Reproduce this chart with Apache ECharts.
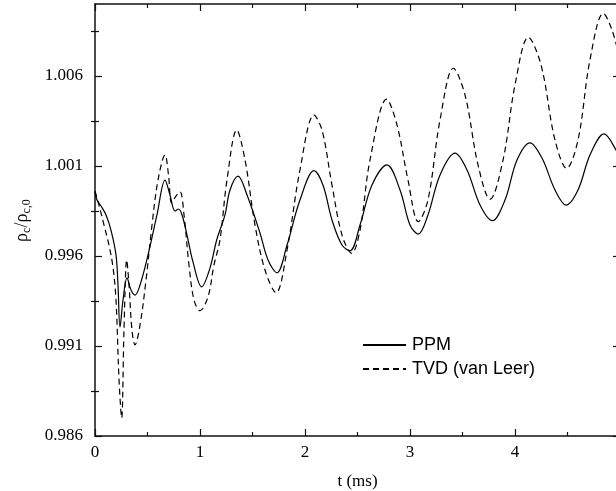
<!DOCTYPE html>
<html>
<head>
<meta charset="utf-8">
<script src="https://cdn.jsdelivr.net/npm/echarts@6/dist/echarts.min.js"></script>
<style>html,body{margin:0;padding:0;background:#fff;}#c{width:616px;height:491px;}</style>
</head>
<body>
<div id="c"></div>
<script>
// time (ms) and rho_c/rho_c0 for PPM
const ppmT = [0,0.019,0.057,0.105,0.152,0.2,0.219,0.238,0.267,0.305,0.343,0.381,0.429,0.505,0.59,0.667,0.714,0.762,0.795,0.829,0.876,0.933,1.016,1.095,1.159,1.238,1.286,1.362,1.448,1.571,1.648,1.733,1.829,1.952,2.086,2.171,2.257,2.352,2.429,2.524,2.638,2.781,2.905,3.0,3.079,3.171,3.286,3.429,3.543,3.667,3.784,3.905,4.019,4.143,4.257,4.381,4.486,4.6,4.714,4.848,4.962,5.0];
const ppmV = [0.99956,0.99911,0.99878,0.99828,0.99744,0.99606,0.99439,0.99206,0.99356,0.99478,0.99411,0.99383,0.99439,0.99606,0.99828,1.00022,0.99939,0.99850,0.99861,0.99828,0.99717,0.99567,0.99429,0.99533,0.99689,0.99828,0.99967,1.00044,0.99939,0.99728,0.99578,0.99507,0.99661,0.99911,1.00074,0.99994,0.99800,0.99661,0.99629,0.99772,0.99994,1.00106,0.99967,0.99772,0.99722,0.99828,1.00050,1.00171,1.00078,0.99883,0.99796,0.99911,1.00133,1.00229,1.00144,0.99967,0.99883,0.99967,1.00161,1.00278,1.00189,1.00133];
// TVD (van Leer)
const tvdT = [0,0.038,0.086,0.133,0.171,0.2,0.229,0.254,0.276,0.302,0.324,0.352,0.381,0.429,0.486,0.543,0.6,0.667,0.7,0.73,0.771,0.81,0.848,0.895,0.943,1.0,1.076,1.133,1.19,1.257,1.35,1.429,1.524,1.619,1.724,1.829,1.952,2.086,2.162,2.257,2.352,2.445,2.524,2.619,2.778,2.876,2.981,3.079,3.171,3.286,3.413,3.524,3.648,3.762,3.886,4.0,4.127,4.248,4.381,4.492,4.6,4.714,4.841,4.924,5.0];
const tvdV = [0.99961,0.99883,0.99772,0.99661,0.99539,0.99356,0.98911,0.98700,0.99189,0.99578,0.99439,0.99189,0.99106,0.99217,0.99467,0.99772,1.00022,1.00161,1.00050,0.99894,0.99933,0.99957,0.99828,0.99550,0.99356,0.99296,0.99372,0.99550,0.99689,1.00022,1.00300,1.00133,0.99772,0.99522,0.99396,0.99633,1.00078,1.00383,1.00300,0.99994,0.99717,0.99615,0.99744,1.00133,1.00471,1.00328,1.00022,0.99791,0.99911,1.00356,1.00643,1.00494,1.00106,0.99915,1.00133,1.00550,1.00815,1.00661,1.00244,1.00087,1.00244,1.00689,1.00948,1.00856,1.00689];
const seriesNames = ['PPM', 'TVD (van Leer)'];
const yMajor = [0.986, 0.991, 0.996, 1.001, 1.006];
const yMinor = [0.9885, 0.9935, 0.9985, 1.0035, 1.0085];
const xName = 't (ms)';

const zip = (a, b) => a.map((t, i) => [t, b[i]]);
const serif = 'Liberation Serif';
const axisCol = '#111';

const xBase = {
  type: 'value', min: 0, max: 5, interval: 1,
  axisLine: {show: true, onZero: false, lineStyle: {color: axisCol, width: 1.5}},
  axisTick: {show: true, inside: true, length: 7, lineStyle: {color: axisCol, width: 1.2}},
  minorTick: {show: true, splitNumber: 2, length: 4, lineStyle: {color: axisCol, width: 1.2}},
  splitLine: {show: false}, minorSplitLine: {show: false}
};
const yBase = {
  type: 'value', min: 0.986, max: 1.010,
  axisLine: {show: true, onZero: false, lineStyle: {color: axisCol, width: 1.5}},
  splitLine: {show: false}
};

const chart = echarts.init(document.getElementById('c'), null, {renderer: 'canvas'});
chart.setOption({
  animation: false,
  backgroundColor: '#fff',
  grid: {left: 95, top: 4, width: 525, height: 432, containLabel: false, outerBoundsMode: 'none'},
  xAxis: [
    Object.assign({}, xBase, {
      position: 'bottom',
      axisLabel: {show: true, margin: 8, color: '#000', fontFamily: serif, fontSize: 17, hideOverlap: false},
      name: xName, nameLocation: 'middle', nameGap: 37,
      nameTextStyle: {color: '#000', fontFamily: serif, fontSize: 17}
    }),
    Object.assign({}, xBase, {position: 'top', axisLabel: {show: false}})
  ],
  yAxis: [
    Object.assign({}, yBase, {
      position: 'left',
      axisTick: {show: true, inside: true, length: 7, customValues: yMajor, lineStyle: {color: axisCol, width: 1.2}},
      axisLabel: {show: true, margin: 12, customValues: yMajor, color: '#000', fontFamily: serif, fontSize: 17,
        formatter: v => Number(v).toFixed(3)}
    }),
    Object.assign({}, yBase, {
      position: 'left', axisLine: {show: false},
      axisTick: {show: true, inside: true, length: 4, customValues: yMinor, lineStyle: {color: axisCol, width: 1.2}},
      axisLabel: {show: false}
    }),
    Object.assign({}, yBase, {
      position: 'right',
      axisTick: {show: true, inside: true, length: 7, customValues: yMajor, lineStyle: {color: axisCol, width: 1.2}},
      axisLabel: {show: false}
    }),
    Object.assign({}, yBase, {
      position: 'right', axisLine: {show: false},
      axisTick: {show: true, inside: true, length: 4, customValues: yMinor, lineStyle: {color: axisCol, width: 1.2}},
      axisLabel: {show: false}
    })
  ],
  legend: {
    orient: 'vertical', left: 357, top: 331,
    itemWidth: 43, itemHeight: 14, itemGap: 6,
    itemStyle: {opacity: 0},
    textStyle: {fontFamily: 'Liberation Sans', fontSize: 18, color: '#000', lineHeight: 18, padding: [0, 0, 0, 1]},
    data: seriesNames
  },
  series: [
    {name: seriesNames[0], type: 'line', data: zip(ppmT, ppmV), smooth: 0.35, showSymbol: false, symbol: 'none',
      lineStyle: {color: '#000', width: 1.2, type: 'solid'}, itemStyle: {color: '#000'}},
    {name: seriesNames[1], type: 'line', data: zip(tvdT, tvdV), smooth: 0.35, showSymbol: false, symbol: 'none',
      lineStyle: {color: '#000', width: 1.2, type: [6, 4]}, itemStyle: {color: '#000'}}
  ],
  graphic: [{
    type: 'group', x: 22, y: 220, rotation: Math.PI / 2,
    children: [
      {type: 'text', x: -22, y: 0, style: {text: 'ρ', font: '18px "Liberation Serif"', fill: '#000', verticalAlign: 'middle'}},
      {type: 'text', x: -13, y: 5, style: {text: 'c', font: '12px "Liberation Serif"', fill: '#000', verticalAlign: 'middle'}},
      {type: 'text', x: -7.5, y: 0, style: {text: '/ρ', font: '18px "Liberation Serif"', fill: '#000', verticalAlign: 'middle'}},
      {type: 'text', x: 6.5, y: 5, style: {text: 'c,0', font: '12px "Liberation Serif"', fill: '#000', verticalAlign: 'middle'}}
    ]
  }]
});
</script>
</body>
</html>
